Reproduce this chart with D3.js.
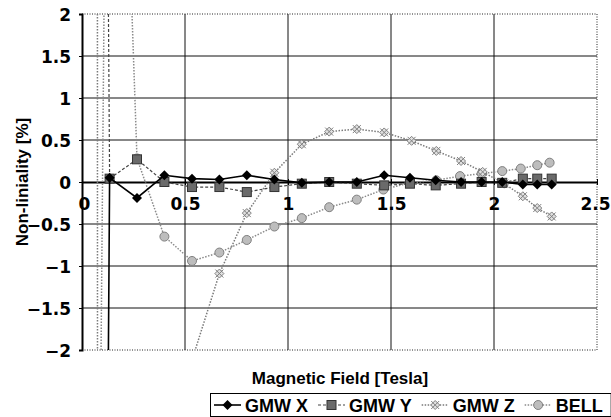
<!DOCTYPE html>
<html lang="en">
<head>
  <meta charset="UTF-8">
  <title>Non-liniality vs Magnetic Field</title>
  <script src="https://d3js.org/d3.v7.min.js"></script>
  <style>
    body { margin: 0; background: #fff; }
    svg { display: block; }
    .tick-label { font-family: "DejaVu Sans", sans-serif; font-weight: bold; font-size: 17px; fill: #000; }
    .title { font-family: "Liberation Sans", Arial, sans-serif; font-weight: bold; font-size: 17px; fill: #000; }
    .legend-text { font-family: "Liberation Sans", Arial, sans-serif; font-weight: bold; font-size: 18px; fill: #000; }
  </style>
</head>
<body>
<svg id="chart" width="611" height="417"></svg>
<script>
  // tick values
  const xTicks = [0, 0.5, 1, 1.5, 2, 2.5];
  const yTicks = [-2, -1.5, -1, -0.5, 0, 0.5, 1, 1.5, 2];

  // GMW X / GMW Y share the same field steps (first point is off scale)
  const fieldXY = [0.10, 0.134, 0.267, 0.40, 0.534, 0.667, 0.80, 0.934, 1.067, 1.20, 1.334, 1.467, 1.592, 1.717, 1.84, 1.94, 2.04, 2.14, 2.21, 2.28];
  const gmwX = [-12, 0.05, -0.19, 0.08, 0.04, 0.03, 0.08, 0.03, -0.01, 0.0, 0.0, 0.08, 0.05, 0.02, 0.0, 0.0, 0.0, -0.03, -0.03, -0.03];
  const gmwY = [12, 0.04, 0.27, 0.0, -0.06, -0.06, -0.12, -0.06, -0.02, 0.0, -0.02, -0.04, -0.02, -0.04, -0.02, 0.0, -0.01, 0.04, 0.04, 0.04];

  // GMW Z (first points far off scale)
  const fieldZ = [0.06, 0.09, 0.134, 0.267, 0.40, 0.534, 0.667, 0.80, 0.934, 1.067, 1.20, 1.334, 1.467, 1.60, 1.72, 1.84, 1.945, 2.05, 2.14, 2.21, 2.28];
  const gmwZ = [200, -200, -120, -40, -8, -2.12, -1.09, -0.37, 0.11, 0.45, 0.60, 0.63, 0.59, 0.49, 0.37, 0.25, 0.12, -0.02, -0.17, -0.31, -0.41];

  // BELL
  const fieldBell = [0.05, 0.134, 0.267, 0.40, 0.534, 0.667, 0.80, 0.934, 1.067, 1.20, 1.334, 1.463, 1.59, 1.72, 1.835, 1.94, 2.04, 2.13, 2.21, 2.27];
  const bell = [-14, 9.7, 0.28, -0.65, -0.94, -0.84, -0.69, -0.53, -0.43, -0.30, -0.21, -0.09, -0.01, 0.02, 0.07, 0.10, 0.13, 0.16, 0.20, 0.23];

  const seriesNames = ["GMW X", "GMW Y", "GMW Z", "BELL"];

  const svg = d3.select("#chart");
  const plot = { left: 82, right: 597, top: 14, bottom: 350 };

  const x = d3.scaleLinear().domain([0, 2.5]).range([plot.left, plot.right]);
  const y = d3.scaleLinear().domain([-2, 2]).range([plot.bottom, plot.top]);

  const fmt = d => String(d).replace("-", "\u2212");

  svg.append("defs").append("clipPath")
    .attr("id", "clip")
    .append("rect")
    .attr("x", plot.left)
    .attr("y", plot.top)
    .attr("width", plot.right - plot.left)
    .attr("height", plot.bottom - plot.top);

  // horizontal grid lines
  svg.append("g")
    .selectAll("line")
    .data(yTicks.filter(d => d !== 0 && Math.abs(d) !== 2))
    .join("line")
    .attr("x1", plot.left).attr("x2", plot.right)
    .attr("y1", d => y(d)).attr("y2", d => y(d))
    .attr("stroke", "#111").attr("stroke-width", 1);

  // vertical grid lines
  svg.append("g")
    .selectAll("line")
    .data(xTicks.filter(d => d > 0 && d < 2.5))
    .join("line")
    .attr("x1", d => x(d)).attr("x2", d => x(d))
    .attr("y1", plot.top).attr("y2", plot.bottom)
    .attr("stroke", "#111").attr("stroke-width", 1);

  // dotted border (top, right, bottom)
  const border = svg.append("g")
    .attr("stroke", "#222").attr("stroke-width", 1).attr("stroke-dasharray", "1,1.5");
  border.append("line").attr("x1", plot.left).attr("x2", plot.right).attr("y1", y(2)).attr("y2", y(2));
  border.append("line").attr("x1", plot.left).attr("x2", plot.right).attr("y1", y(-2)).attr("y2", y(-2));
  border.append("line").attr("x1", x(2.5)).attr("x2", x(2.5)).attr("y1", plot.top).attr("y2", plot.bottom);

  // y axis
  const yAxis = svg.append("g")
    .attr("transform", `translate(${plot.left},0)`)
    .call(d3.axisLeft(y).tickValues(yTicks).tickSize(3).tickPadding(8).tickFormat(fmt));
  yAxis.select(".domain").attr("stroke", "#000").attr("stroke-width", 2);
  yAxis.selectAll(".tick line").attr("stroke", "#000");
  yAxis.selectAll(".tick text").attr("class", "tick-label").attr("dy", "0.36em");

  // x axis on the zero line, labels below it
  const xAxis = svg.append("g")
    .attr("transform", `translate(0,${y(0)})`)
    .call(d3.axisBottom(x).tickValues(xTicks).tickSize(3).tickPadding(13).tickSizeOuter(0).tickFormat(fmt));
  xAxis.select(".domain").attr("stroke", "#000").attr("stroke-width", 2);
  xAxis.selectAll(".tick line").attr("stroke", "#000").attr("y1", -3);
  xAxis.selectAll(".tick text").attr("class", "tick-label")
    .attr("dx", d => d === 2.5 ? -2 : (d === 0 ? 2 : 0));

  // series
  const toPoints = (xs, ys) => xs.map((v, i) => ({ x: v, y: ys[i] }));
  const series = [
    { name: seriesNames[0], pts: toPoints(fieldXY, gmwX), stroke: "#000", width: 1.6, dash: null, marker: "diamond" },
    { name: seriesNames[1], pts: toPoints(fieldXY, gmwY), stroke: "#444", width: 1.2, dash: "3,2", marker: "square" },
    { name: seriesNames[2], pts: toPoints(fieldZ, gmwZ), stroke: "#7a7a7a", width: 1.5, dash: "1.5,1.5", marker: "cross" },
    { name: seriesNames[3], pts: toPoints(fieldBell, bell), stroke: "#8a8a8a", width: 1.5, dash: "1.5,1.5", marker: "circle" }
  ];

  const line = d3.line().x(d => x(d.x)).y(d => y(d.y));

  function drawMarker(g, type) {
    if (type === "diamond") {
      g.append("path").attr("d", "M0,-5L5,0L0,5L-5,0Z").attr("fill", "#000");
    } else if (type === "square") {
      g.append("rect").attr("x", -4.5).attr("y", -4.5).attr("width", 9).attr("height", 9)
        .attr("fill", "#6a6a6a").attr("stroke", "#333").attr("stroke-width", 1);
    } else if (type === "cross") {
      g.append("path").attr("d", "M0,-4.5L4.5,0L0,4.5L-4.5,0Z").attr("fill", "#e0e0e0").attr("stroke", "#808080");
      g.append("path").attr("d", "M-4,-4L4,4M-4,4L4,-4").attr("stroke", "#808080").attr("stroke-width", 1);
    } else {
      g.append("circle").attr("r", 4.5).attr("fill", "#bdbdbd").attr("stroke", "#808080").attr("stroke-width", 1);
    }
  }

  const plotG = svg.append("g").attr("clip-path", "url(#clip)");
  // draw BELL and Z first so GMW X/Y sit on top
  [series[3], series[2], series[1], series[0]].forEach(s => {
    plotG.append("path")
      .datum(s.pts)
      .attr("d", line)
      .attr("fill", "none")
      .attr("stroke", s.stroke)
      .attr("stroke-width", s.width)
      .attr("stroke-dasharray", s.dash);
    plotG.append("g")
      .selectAll("g")
      .data(s.pts.filter(d => d.y >= -2.2 && d.y <= 2.2))
      .join("g")
      .attr("transform", d => `translate(${x(d.x)},${y(d.y)})`)
      .each(function() { drawMarker(d3.select(this), s.marker); });
  });

  // axis titles
  svg.append("text")
    .attr("class", "title")
    .attr("transform", `translate(28,${y(0)}) rotate(-90)`)
    .attr("text-anchor", "middle")
    .text("Non-liniality [%]");

  svg.append("text")
    .attr("class", "title")
    .attr("x", 340)
    .attr("y", 384)
    .attr("text-anchor", "middle")
    .text("Magnetic Field [Tesla]");

  // legend
  const legend = svg.append("g");
  const legendBox = legend.append("rect")
    .attr("fill", "#fff").attr("stroke", "#000").attr("stroke-width", 1);
  let cx = 214;
  series.forEach(s => {
    const item = legend.append("g");
    item.append("line")
      .attr("x1", cx).attr("x2", cx + 27)
      .attr("y1", 405).attr("y2", 405)
      .attr("stroke", s.stroke).attr("stroke-width", s.width)
      .attr("stroke-dasharray", s.dash);
    drawMarker(item.append("g").attr("transform", `translate(${cx + 13.5},405)`), s.marker);
    const t = item.append("text")
      .attr("class", "legend-text")
      .attr("x", cx + 31)
      .attr("y", 411.5)
      .text(s.name);
    cx += 31 + t.node().getComputedTextLength() + 10;
  });
  legendBox.attr("x", 210.5).attr("y", 393.5).attr("width", cx - 212).attr("height", 23);
</script>
</body>
</html>
